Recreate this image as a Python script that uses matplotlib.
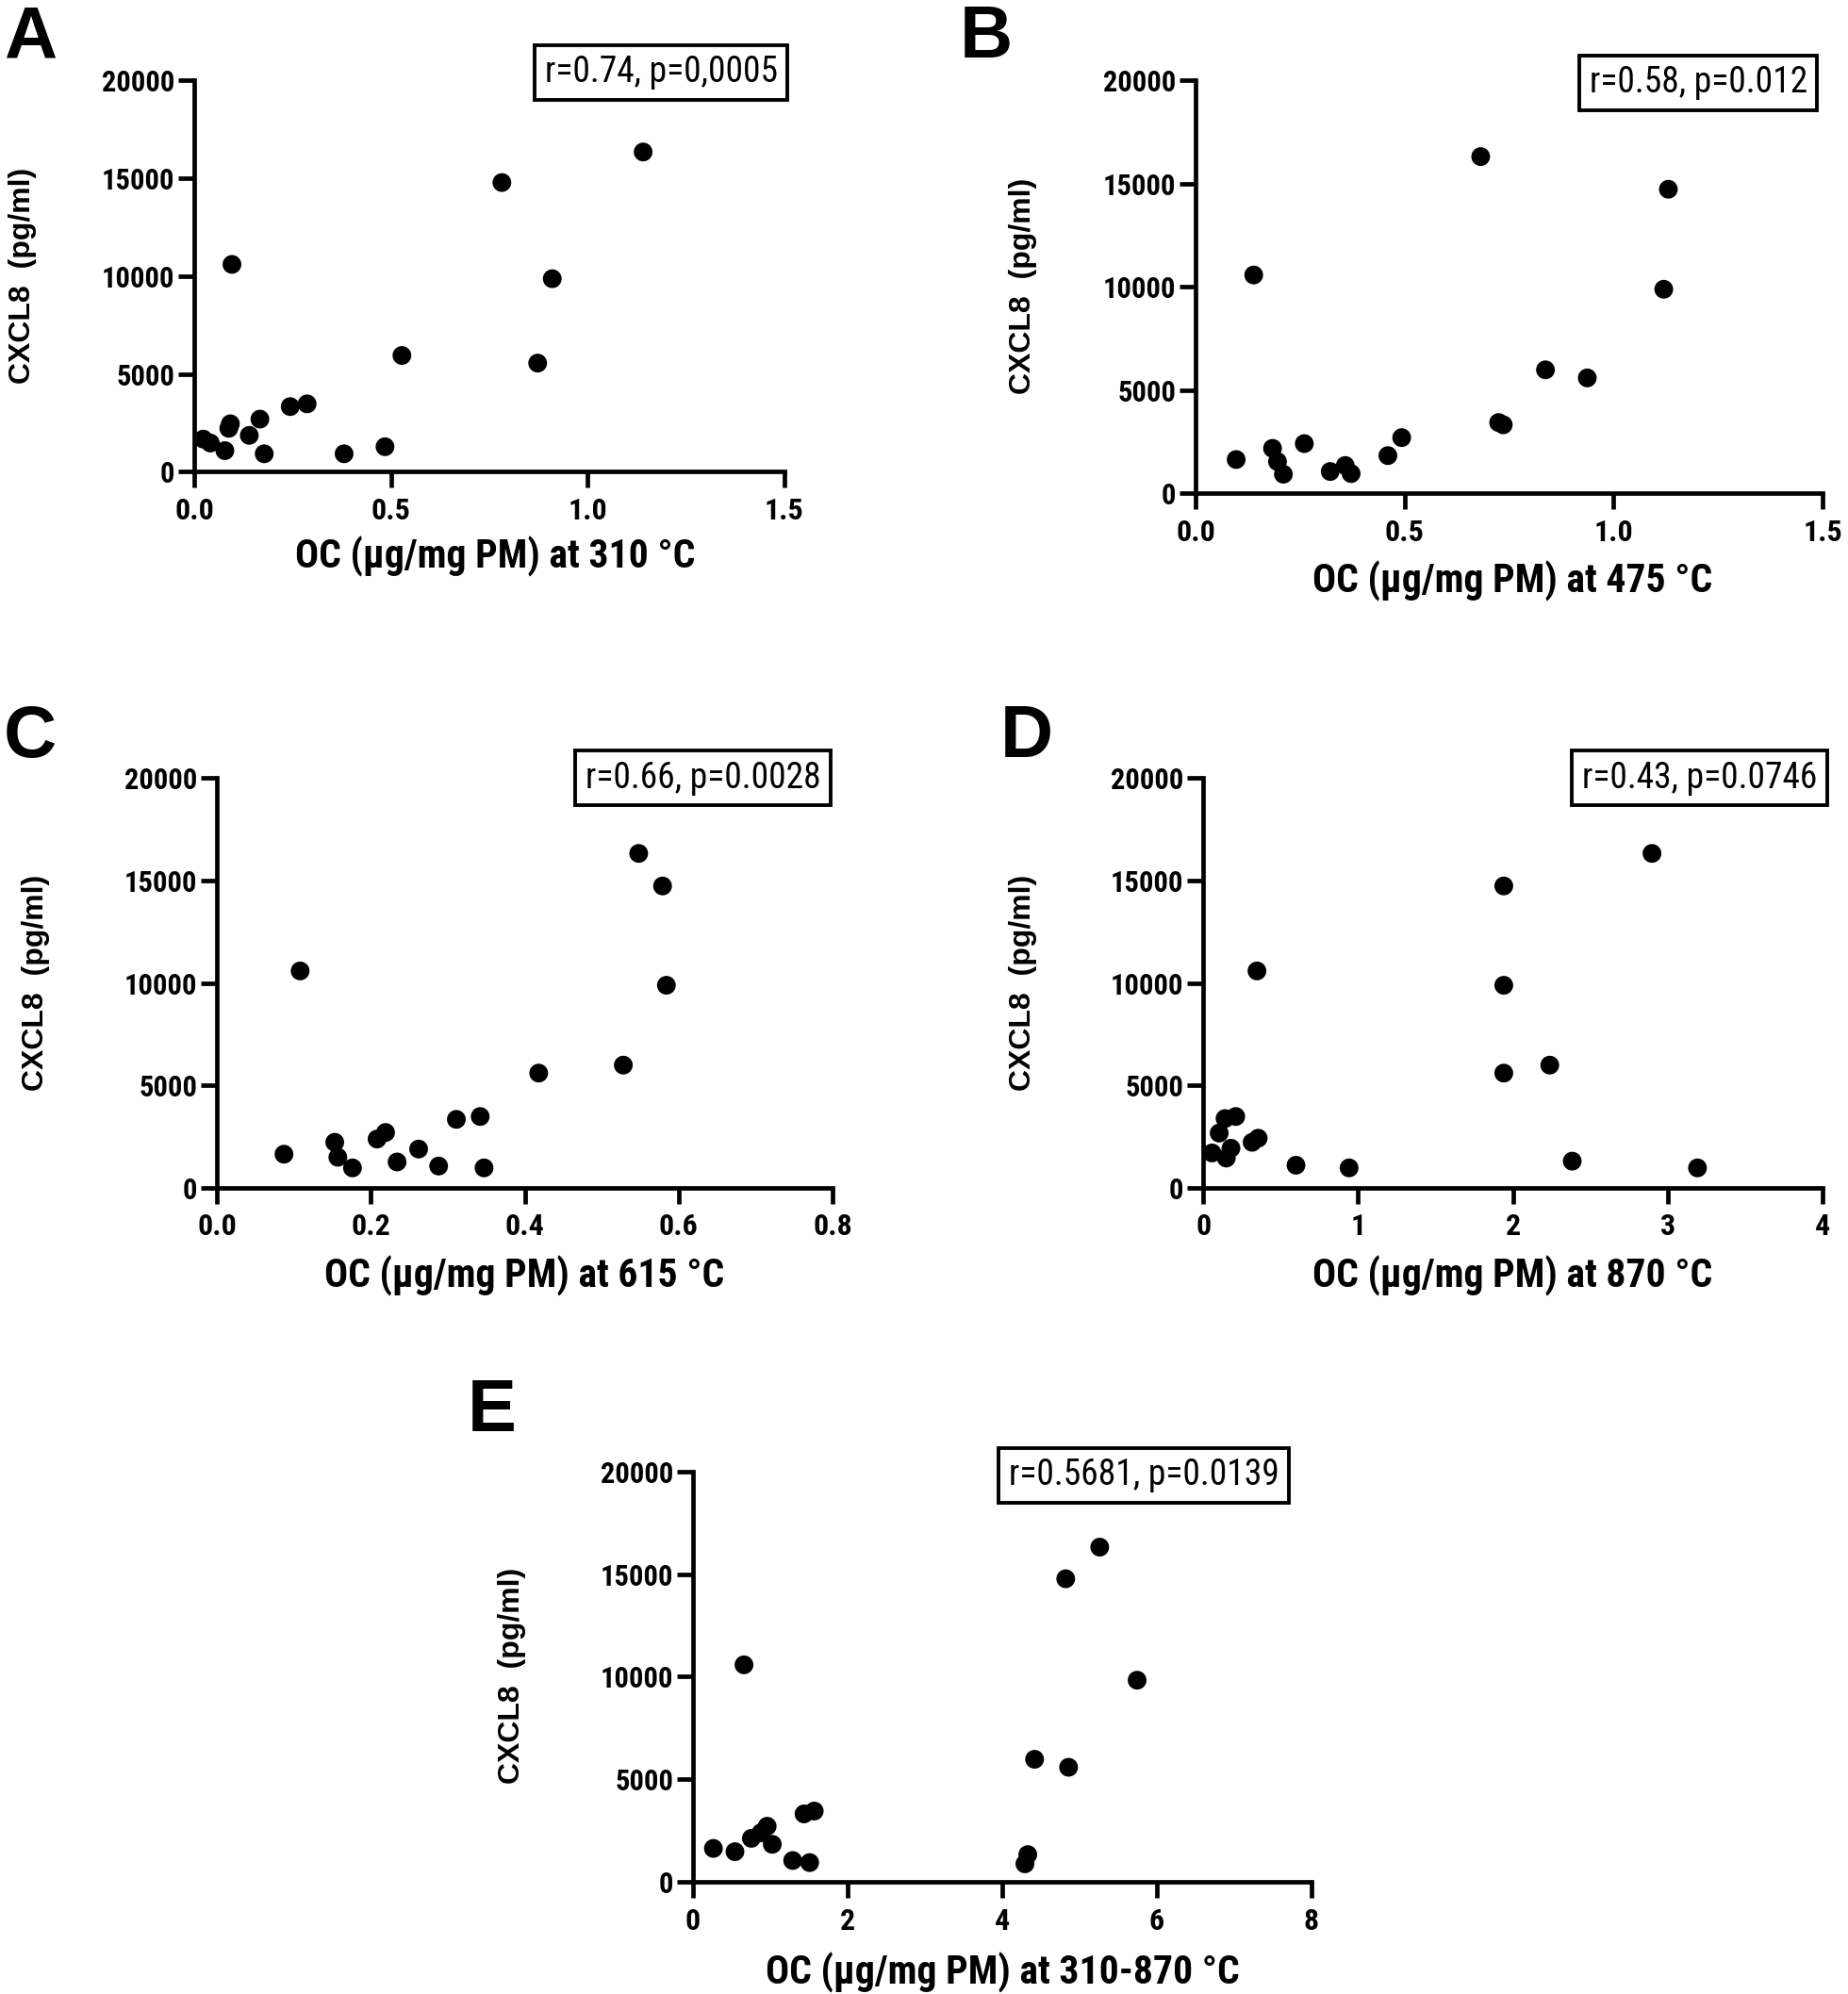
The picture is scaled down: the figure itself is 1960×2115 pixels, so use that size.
import matplotlib
matplotlib.use("Agg")
import matplotlib.pyplot as plt
from matplotlib import font_manager

# ---------------- data ----------------
# Panel A: OC at 310 °C
a_x = [0.023, 0.041, 0.078, 0.088, 0.092, 0.096, 0.140, 0.167, 0.178, 0.244, 0.287, 0.381, 0.485, 0.528, 0.782, 0.873, 0.910, 1.141]
a_y = [1670, 1470, 1080, 2220, 2450, 10590, 1860, 2690, 920, 3330, 3470, 920, 1280, 5940, 14770, 5550, 9860, 16330]
# Panel B: OC at 475 °C
b_x = [0.097, 0.139, 0.184, 0.196, 0.210, 0.260, 0.322, 0.358, 0.372, 0.460, 0.493, 0.682, 0.725, 0.736, 0.837, 0.937, 1.120, 1.131]
b_y = [1640, 10570, 2180, 1540, 930, 2410, 1060, 1350, 960, 1830, 2700, 16300, 3430, 3320, 5980, 5590, 9880, 14720]
# Panel C: OC at 615 °C
c_x = [0.087, 0.108, 0.153, 0.157, 0.176, 0.208, 0.219, 0.234, 0.262, 0.288, 0.311, 0.342, 0.347, 0.418, 0.528, 0.548, 0.579, 0.584]
c_y = [1640, 10590, 2220, 1490, 970, 2380, 2700, 1260, 1890, 1060, 3340, 3480, 970, 5600, 5990, 16330, 14740, 9890]
# Panel D: OC at 870 °C
d_x = [0.057, 0.103, 0.141, 0.149, 0.179, 0.210, 0.316, 0.355, 0.347, 0.599, 0.942, 1.941, 1.941, 1.941, 2.238, 2.383, 2.898, 3.192]
d_y = [1700, 2670, 3380, 1450, 1930, 3480, 2220, 2420, 10590, 1100, 970, 14740, 9890, 5600, 5990, 1300, 16330, 970]
# Panel E: OC at 310-870 °C
e_x = [0.264, 0.543, 0.660, 0.755, 0.880, 0.960, 1.026, 1.290, 1.437, 1.510, 1.569, 4.296, 4.333, 4.421, 4.824, 4.861, 5.264, 5.748]
e_y = [1640, 1480, 10580, 2130, 2400, 2720, 1840, 1050, 3320, 950, 3460, 890, 1340, 5980, 14770, 5590, 16310, 9830]

panel_letters = ["A", "B", "C", "D", "E"]
temps = ["310", "475", "615", "870", "310-870"]
stats = ["r=0.74, p=0,0005", "r=0.58, p=0.012", "r=0.66, p=0.0028",
         "r=0.43, p=0.0746", "r=0.5681, p=0.0139"]
x_maxes = [1.5, 1.5, 0.8, 4, 8]
x_ticks = [[0.0, 0.5, 1.0, 1.5], [0.0, 0.5, 1.0, 1.5], [0.0, 0.2, 0.4, 0.6, 0.8],
           [0, 1, 2, 3, 4], [0, 2, 4, 6, 8]]
x_ticklabels = [["0.0", "0.5", "1.0", "1.5"], ["0.0", "0.5", "1.0", "1.5"],
                ["0.0", "0.2", "0.4", "0.6", "0.8"], ["0", "1", "2", "3", "4"],
                ["0", "2", "4", "6", "8"]]
y_ticks = [0, 5000, 10000, 15000, 20000]
y_ticklabels = ["0", "5000", "10000", "15000", "20000"]
ylabel = "CXCL8  (pg/ml)"

# ---------------- fonts ----------------
avail = {f.name for f in font_manager.fontManager.ttflist}
narrow = "Liberation Sans"
for cand in ["Liberation Sans Narrow", "Arial Narrow", "Roboto Condensed", "Open Sans Condensed"]:
    if cand in avail:
        narrow = cand
        break
wide = "Liberation Sans" if "Liberation Sans" in avail else "DejaVu Sans"
plt.rcParams['font.family'] = [wide, 'DejaVu Sans']

W, H = 1456.0, 1568.0  # reference preview coordinate frame

# axes frame (left, right, top(20000), bottom(0)) in preview px
frames = [(153, 618, 63, 371), (942, 1436, 63, 388), (171, 656, 612, 934),
          (948, 1436, 612, 934), (546, 1033, 1157, 1480)]
boxes = [(521, 57), (1338, 65), (554, 612), (1339, 612), (901, 1160)]
letters_pos = [(3, 3), (756, 3), (3, 553), (788, 553), (368, 1083)]
xlab_pos = [(390, 438), (1192, 457), (413, 1003), (1192, 1003), (790, 1551)]
ylab_pos = [(18, 217), (806, 225), (28, 773), (806, 773), (403, 1318)]

xs = [a_x, b_x, c_x, d_x, e_x]
ys = [a_y, b_y, c_y, d_y, e_y]

fig = plt.figure(figsize=(19.6, 21.15), dpi=100)

for i in range(5):
    l, r, t, b = frames[i]
    ax = fig.add_axes([l / W, 1 - b / H, (r - l) / W, (b - t) / H])
    ax.scatter(xs[i], ys[i], s=205, color="black", edgecolors="none", clip_on=False, zorder=3)
    ax.set_xlim(0, x_maxes[i])
    ax.set_ylim(0, 20000)
    for s in ["top", "right"]:
        ax.spines[s].set_visible(False)
    for s in ["left", "bottom"]:
        ax.spines[s].set_linewidth(3.4)
        ax.spines[s].set_capstyle("projecting")
    ax.set_xticks(x_ticks[i])
    ax.set_xticklabels(x_ticklabels[i], fontfamily=narrow, fontweight="bold", fontsize=23)
    ax.set_yticks(y_ticks)
    ax.set_yticklabels(y_ticklabels, fontfamily=narrow, fontweight="bold", fontsize=22)
    ax.tick_params(axis="both", direction="out", length=12, width=3.4, pad=3)
    ax.tick_params(axis="x", pad=7)

    # stats box
    bx, by = boxes[i]
    fig.text(bx / W, 1 - by / H, stats[i], ha="center", va="center",
             fontfamily=narrow, fontsize=27,
             bbox=dict(boxstyle="square,pad=0.28", facecolor="white",
                       edgecolor="black", linewidth=2.8))
    # panel letter
    lx, ly = letters_pos[i]
    fig.text(lx / W, 1 - ly / H, panel_letters[i], ha="left", va="top",
             fontfamily=wide, fontweight="bold", fontsize=56)
    # x label
    xx, xy = xlab_pos[i]
    fig.text(xx / W, 1 - xy / H, "OC (µg/mg PM) at " + temps[i] + " °C",
             ha="center", va="center", fontfamily=narrow, fontweight="bold", fontsize=30)
    # y label
    yx, yy = ylab_pos[i]
    fig.text(yx / W, 1 - yy / H, ylabel, ha="center", va="center", rotation=90,
             fontfamily=wide, fontweight="bold", fontsize=23)

fig.savefig("out.png", dpi=100, facecolor="white")
